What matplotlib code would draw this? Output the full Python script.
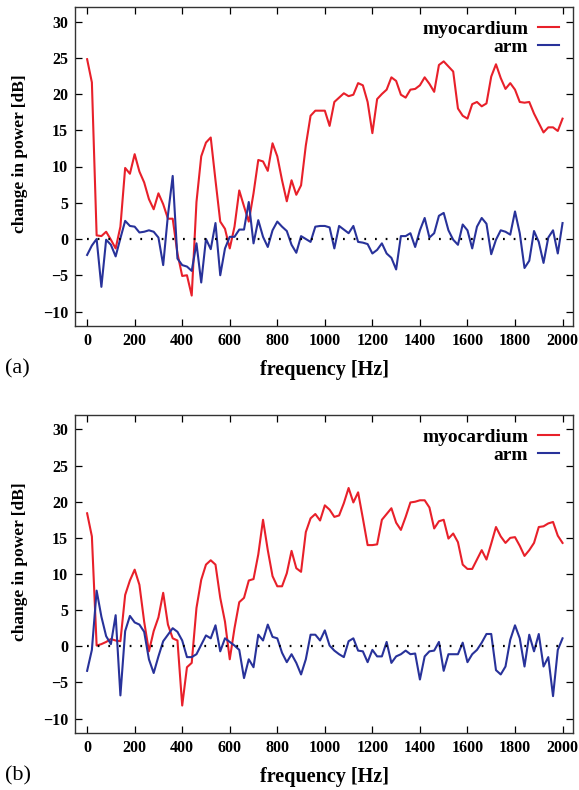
import numpy as np
import matplotlib
matplotlib.use("Agg")
import matplotlib.pyplot as plt

plt.rcParams['font.family'] = ['Liberation Serif', 'DejaVu Serif']
plt.rcParams['font.weight'] = 'bold'

freq = np.arange(0, 2001, 20)

# panel (a)
myo_a = [
    24.8, 21.6, 0.5, 0.4, 1.0, -0.1, -1.3, 1.7, 9.8, 9.0,
    11.7, 9.3, 7.8, 5.5, 4.1, 6.3, 4.8, 2.8, 2.8, -2.0,
    -5.1, -5.0, -7.8, 5.1, 11.4, 13.3, 14.0, 8.1, 2.4, 1.4,
    -1.3, 1.7, 6.7, 4.5, 2.4, 6.3, 10.9, 10.7, 9.4, 13.2,
    11.4, 8.1, 5.2, 8.1, 6.1, 7.4, 12.9, 17.0, 17.7, 17.7,
    17.7, 15.6, 18.9, 19.5, 20.1, 19.7, 19.9, 21.5, 21.2, 18.9,
    14.6, 19.3, 20.0, 20.6, 22.3, 21.8, 19.9, 19.5, 20.6, 20.7,
    21.2, 22.3, 21.4, 20.3, 24.0, 24.5, 23.8, 23.1, 18.0, 17.0,
    16.6, 18.6, 18.9, 18.3, 18.7, 22.4, 24.1, 22.2, 20.7, 21.5,
    20.6, 18.9, 18.8, 18.9, 17.3, 16.0, 14.7, 15.4, 15.4, 14.9,
    16.6,
]
arm_a = [
    -2.2, -0.9, 0.0, -6.6, -0.1, -0.8, -2.4, 0.1, 2.5, 1.8,
    1.7, 0.9, 1.0, 1.2, 1.0, 0.2, -3.6, 3.3, 8.7, -2.7,
    -3.6, -3.8, -4.4, -0.6, -6.0, 0.0, -1.4, 2.2, -5.0, -1.3,
    0.3, 0.3, 1.3, 1.3, 5.1, -0.6, 2.6, 0.3, -1.1, 1.2,
    2.4, 1.7, 1.1, -0.8, -1.9, 0.4, 0.0, -0.4, 1.7, 1.8,
    1.8, 1.6, -1.3, 1.8, 1.3, 0.8, 1.8, -0.4, -0.5, -0.7,
    -2.0, -1.5, -0.6, -2.0, -2.6, -4.2, 0.4, 0.4, 0.8, -1.1,
    1.2, 2.9, 0.2, 0.8, 3.2, 3.6, 1.2, -0.1, -0.8, 2.0,
    1.2, -1.3, 1.7, 2.9, 2.1, -2.1, -0.1, 1.2, 1.0, 0.6,
    3.8, 0.8, -4.0, -3.0, 1.1, -0.4, -3.3, 0.2, 1.2, -2.0,
    2.2,
]

# panel (b)
myo_b = [
    18.4, 15.2, 0.1, 0.3, 0.6, 1.0, 0.8, 0.7, 7.1, 9.1,
    10.6, 8.5, 3.4, -0.7, 2.1, 4.0, 7.4, 3.0, 1.1, 0.8,
    -8.2, -2.9, -2.3, 5.3, 9.2, 11.3, 11.9, 11.3, 6.7, 3.4,
    -1.8, 2.5, 6.1, 6.7, 9.1, 9.3, 12.7, 17.5, 13.3, 9.7,
    8.3, 8.3, 10.1, 13.2, 10.8, 10.3, 15.8, 17.7, 18.3, 17.4,
    19.5, 18.9, 17.9, 18.1, 19.8, 21.9, 19.9, 21.3, 17.7, 14.0,
    14.0, 14.1, 17.5, 18.3, 19.1, 17.1, 16.1, 17.9, 19.9, 20.0,
    20.2, 20.2, 19.2, 16.3, 17.3, 17.5, 14.9, 15.6, 14.4, 11.3,
    10.7, 10.7, 12.0, 13.3, 12.0, 14.2, 16.5, 15.2, 14.3, 15.0,
    15.1, 13.9, 12.5, 13.3, 14.3, 16.5, 16.6, 17.0, 17.2, 15.3,
    14.3,
]
arm_b = [
    -3.4, -0.5, 7.7, 4.1, 1.4, 0.3, 4.3, -6.8, 2.1, 4.2,
    3.3, 3.0, 2.0, -1.8, -3.7, -1.4, 0.7, 1.6, 2.5, 2.0,
    0.8, -1.5, -1.5, -1.1, 0.2, 1.5, 1.1, 2.9, -0.7, 1.1,
    0.6, 0.1, -0.5, -4.4, -1.8, -2.9, 1.6, 0.8, 3.0, 1.3,
    1.1, -0.9, -2.2, -1.1, -2.3, -3.9, -1.8, 1.6, 1.6, 0.8,
    2.2, 0.1, -0.6, -1.1, -1.5, 0.7, 1.1, -0.6, -0.7, -2.2,
    -0.5, -1.4, -1.4, 0.6, -2.3, -1.4, -1.1, -0.6, -1.1, -1.0,
    -4.6, -1.4, -0.7, -0.6, 0.6, -3.4, -1.1, -1.1, -1.1, 0.5,
    -2.2, -1.1, -0.5, 0.5, 1.7, 1.7, -3.3, -3.9, -2.8, 0.9,
    2.9, 1.1, -2.8, 1.6, -0.7, 1.7, -2.8, -1.5, -6.9, -0.5,
    1.1,
]

RED = '#e8202a'
BLUE = '#28329a'

fig = plt.figure(figsize=(5.79, 7.90), dpi=100)
ax_a = fig.add_axes([75 / 579, 1 - 326 / 790, 498 / 579, 319 / 790])
ax_b = fig.add_axes([75 / 579, 1 - 733 / 790, 498 / 579, 318 / 790])

for ax, myo, arm, tag in [(ax_a, myo_a, arm_a, '(a)'), (ax_b, myo_b, arm_b, '(b)')]:
    ax.plot(freq, myo, color=RED, lw=1.5, label='myocardium')
    ax.plot(freq, arm, color=BLUE, lw=1.5, label='arm')
    ax.plot([0, 2000], [0, 0], color='black', lw=1.6, linestyle=(0, (0.8, 4.0)))
    ax.set_xlim(-51, 2044)
    ax.set_ylim(-12, 32)
    ax.set_xticks(range(0, 2001, 200))
    ax.set_yticks(range(-10, 31, 5))
    ax.tick_params(direction='in', top=True, right=True, length=5, width=0.9,
                   labelsize=11.5, pad=5)
    for s in ax.spines.values():
        s.set_linewidth(1.0)
        s.set_color('#333333')
    ax.set_xlabel('frequency [Hz]', fontsize=14.5, fontweight='bold', labelpad=8)
    ax.set_ylabel('change in power [dB]', fontsize=12.5, fontweight='bold')
    ax.yaxis.set_label_coords(-0.095, 0.54)
    leg = ax.legend(loc='upper right', frameon=False, markerfirst=False,
                    fontsize=14, handlelength=1.1, labelspacing=0,
                    handletextpad=0.5, borderaxespad=0.3)
    for t in leg.get_texts():
        t.set_fontweight('bold')
    ax.text(-0.14, -0.135, tag, transform=ax.transAxes, fontsize=16,
            fontweight='normal', ha='left', va='center')

fig.savefig('out.png', dpi=100)
